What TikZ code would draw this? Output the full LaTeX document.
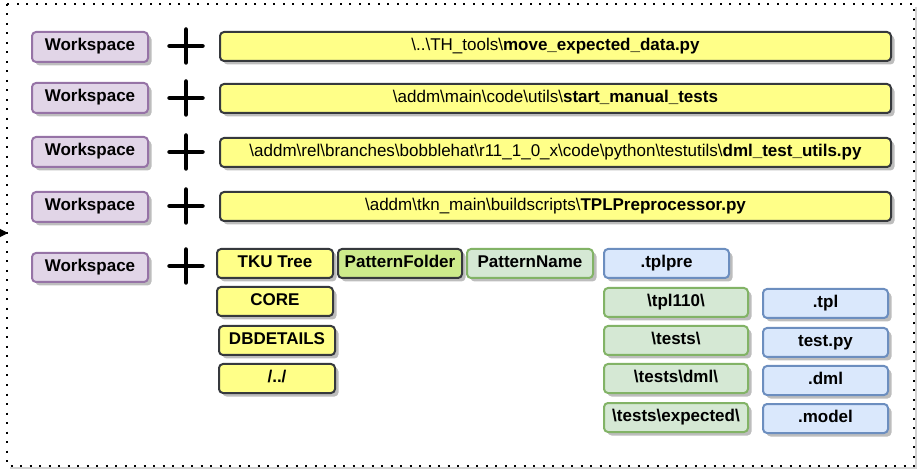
\documentclass[tikz,border=0pt]{standalone}
\usepackage{fontspec}
\setmainfont{Liberation Sans}
\usetikzlibrary{shadows,arrows.meta}
\definecolor{wsfill}{HTML}{E1D5E7}
\definecolor{wsdraw}{HTML}{9673A6}
\definecolor{yfill}{HTML}{FFFF88}
\definecolor{ydraw}{HTML}{36393D}
\definecolor{gfill}{HTML}{D5E8D4}
\definecolor{gdraw}{HTML}{82B366}
\definecolor{pffill}{HTML}{CDEB8B}
\definecolor{bfill}{HTML}{DAE8FC}
\definecolor{bdraw}{HTML}{6C8EBF}
\tikzset{
  box/.style={rectangle, rounded corners=4pt, line width=2pt, inner sep=0pt,
    text height=12pt, text depth=4pt,
    font=\fontsize{17}{20}\selectfont,
    drop shadow={shadow xshift=3.5pt, shadow yshift=-3.5pt, fill=black!26, opacity=1}},
  wsbox/.style={box, fill=wsfill, draw=wsdraw, font=\fontsize{17}{20}\selectfont\bfseries,
    minimum width=116pt, minimum height=30pt},
  ybox/.style={box, fill=yfill, draw=ydraw},
  ysmall/.style={ybox, font=\fontsize{17}{20}\selectfont\bfseries, minimum width=116pt, minimum height=29pt},
  gbox/.style={box, fill=gfill, draw=gdraw, font=\fontsize{17}{20}\selectfont\bfseries, minimum height=29pt},
  bbox/.style={box, fill=bfill, draw=bdraw, font=\fontsize{17}{20}\selectfont\bfseries, minimum height=29pt},
  pathbox/.style={ybox, minimum width=671pt, minimum height=29pt},
  plussign/.style={line width=4.5pt, line cap=round},
  frameline/.style={line width=2pt, dash pattern=on 2pt off 7.5pt},
  frameshadow/.style={line width=2.5pt, draw=black!18},
}
\newcommand{\bs}{\textbackslash}
\begin{document}
\begin{tikzpicture}[x=1pt,y=1pt]
\useasboundingbox (0,0) rectangle (924,-470);
% frame
\draw[frameshadow] (916,-7) -- (916,-468) -- (10,-468);
\draw[frameline] (7,-4) rectangle (914,-466);
\coordinate (ain) at (-1,-233);
\coordinate (aout) at (8,-233);
\draw[line width=1pt, -{Triangle[length=8pt,width=8pt]}] (ain) -- (aout);

% workspaces
\node[wsbox] (ws1) at (90,-47) {Workspace};
\node[wsbox] (ws2) at (90,-98) {Workspace};
\node[wsbox] (ws3) at (90,-152) {Workspace};
\node[wsbox] (ws4) at (90,-207) {Workspace};
\node[wsbox, minimum height=29pt] (ws5) at (90,-267.5) {Workspace};

% plus signs
\foreach \py in {46,98,152,206,266}{
  \draw[plussign] (186,-\py+16.5) -- (186,-\py-16.5);
  \draw[plussign] (169.5,-\py) -- (202.5,-\py);
}

% long path boxes
\node[pathbox] (p1) at (555.5,-46.5) {\bs..\bs TH\_tools\bs\textbf{move\_expected\_data.py}};
\node[pathbox] (p2) at (555.5,-98.5) {\bs addm\bs main\bs code\bs utils\bs\textbf{start\_manual\_tests}};
\node[pathbox] (p3) at (555.5,-152.5) {\bs addm\bs rel\bs branches\bs bobblehat\bs r11\_1\_0\_x\bs code\bs python\bs testutils\bs\textbf{dml\_test\_utils.py}};
\node[pathbox] (p4) at (555.5,-206.5) {\bs addm\bs tkn\_main\bs buildscripts\bs\textbf{TPLPreprocessor.py}};

% last row
\node[ysmall] (tku) at (275,-263.5) {TKU Tree};
\node[ysmall] (core) at (275,-301.5) {CORE};
\node[ysmall] (dbd) at (277,-340.5) {DBDETAILS};
\node[ysmall] (up) at (277,-378.5) {/../};
\node[box, fill=pffill, draw=ydraw, font=\fontsize{17}{20}\selectfont\bfseries, minimum width=124pt, minimum height=29pt] (pfolder) at (400,-263.5) {PatternFolder};
\node[gbox, minimum width=126pt] (pname) at (530,-263.5) {PatternName};
\node[bbox, minimum width=125pt] (tplpre) at (666.5,-263.5) {.tplpre};
\node[gbox, minimum width=144pt] (tpl110) at (676,-302.5) {\bs tpl110\bs};
\node[gbox, minimum width=144pt] (tests) at (676,-340.5) {\bs tests\bs};
\node[gbox, minimum width=144pt] (testsdml) at (676,-378.5) {\bs tests\bs dml\bs};
\node[gbox, minimum width=144pt] (testsexp) at (676,-417.5) {\bs tests\bs expected\bs};
\node[bbox, minimum width=125pt] (tpl) at (825.5,-303.5) {.tpl};
\node[bbox, minimum width=125pt] (testpy) at (825.5,-342.5) {test.py};
\node[bbox, minimum width=125pt] (dml) at (825.5,-380.5) {.dml};
\node[bbox, minimum width=125pt] (model) at (825.5,-418.5) {.model};
\end{tikzpicture}
\end{document}
